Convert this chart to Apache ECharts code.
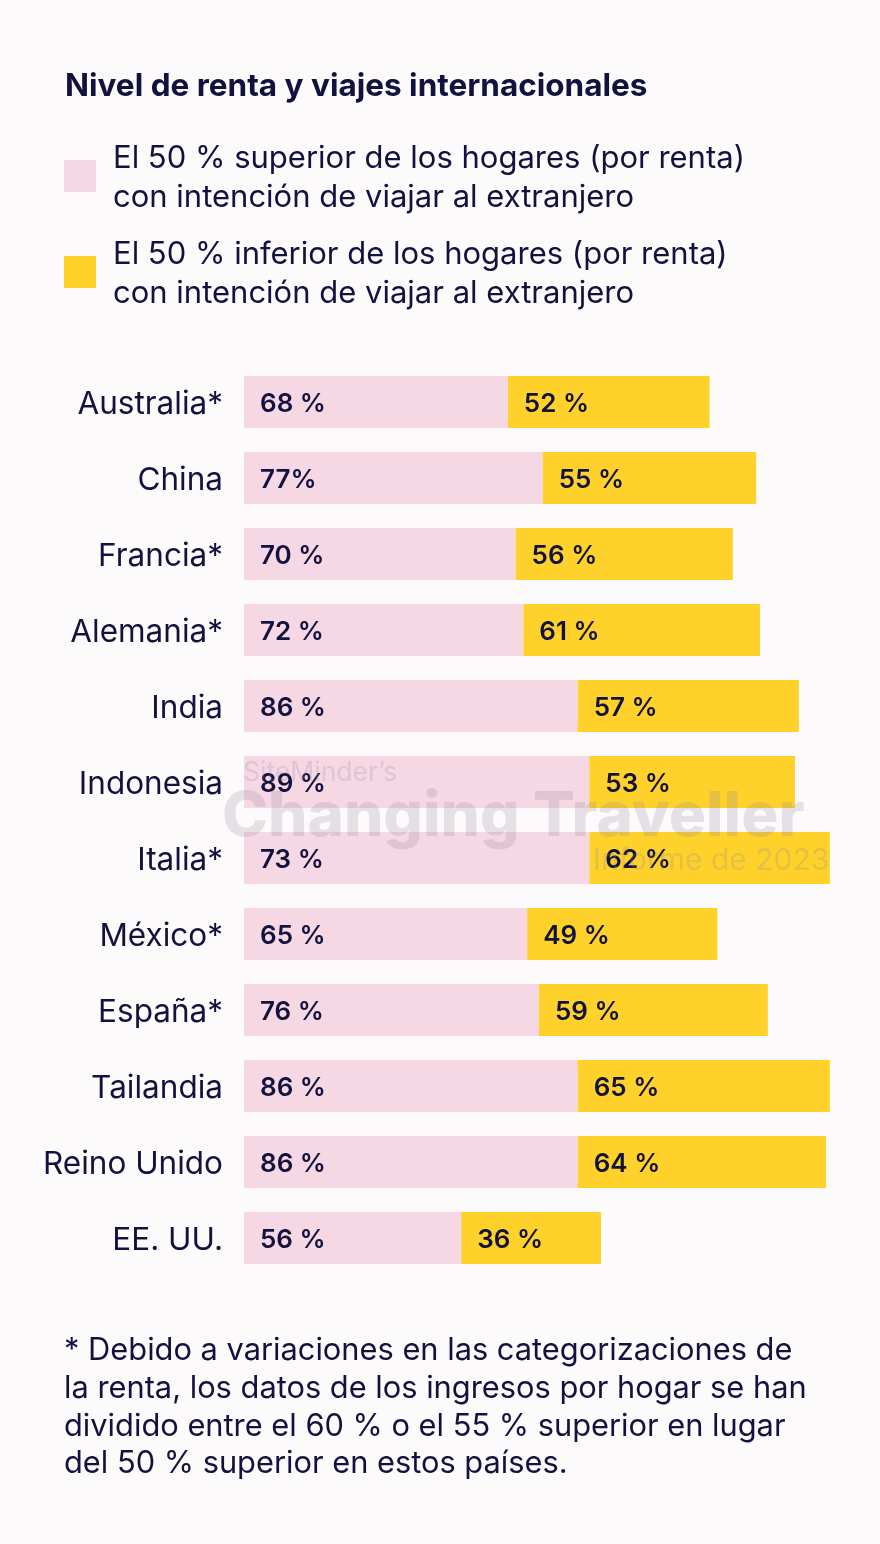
<!DOCTYPE html>
<html>
<head>
<meta charset="utf-8">
<script src="https://cdn.jsdelivr.net/npm/echarts@6/dist/echarts.min.js"></script>
<style>
html,body{margin:0;padding:0;background:#fdfafc;}
#chart{width:880px;height:1544px;}
</style>
</head>
<body>
<div id="chart"></div>
<script>
const categories = ['Australia*','China','Francia*','Alemania*','India','Indonesia','Italia*','México*','España*','Tailandia','Reino Unido','EE. UU.'];
const topHalf = [68,77,70,72,86,89,89,73,76,86,86,56];
const topHalfLabels = ['68 %','77%','70 %','72 %','86 %','89 %','73 %','65 %','76 %','86 %','86 %','56 %'];
const bottomHalf = [52,55,56,61,57,53,62,49,59,65,64,36];
const bottomHalfLabels = ['52 %','55 %','56 %','61 %','57 %','53 %','62 %','49 %','59 %','65 %','64 %','36 %'];

const NAVY = '#13123f';
const PINK = '#f6d8e4';
const YELLOW = '#fed22b';
const FONT = 'Inter, "Noto Sans", sans-serif';

const chart = echarts.init(document.getElementById('chart'));
const labelStyle = (arr) => ({
  show: true,
  position: 'insideLeft',
  distance: 16,
  offset: [0, 2],
  fontFamily: FONT,
  fontSize: 26,
  fontWeight: 600,
  color: NAVY,
  formatter: p => arr[p.dataIndex]
});
chart.setOption({
  backgroundColor: '#fdfafc',
  animation: false,
  grid: {left: 244, top: 364, width: 620.8, height: 912},
  xAxis: {type: 'value', min: 0, max: 160, show: false},
  yAxis: {
    type: 'category', data: categories, inverse: true,
    axisLine: {show: false}, axisTick: {show: false}, splitLine: {show: false},
    axisLabel: {
      margin: 21,
      formatter: v => '{a|' + v + '}',
      rich: {a: {fontFamily: FONT, fontSize: 31.5, color: NAVY, padding: [6, 0, 0, 0]}}
    }
  },
  series: [
    {type: 'bar', stack: 's', data: topHalf, barWidth: 52, itemStyle: {color: PINK}, label: labelStyle(topHalfLabels)},
    {type: 'bar', stack: 's', data: bottomHalf, barWidth: 52, itemStyle: {color: YELLOW}, label: labelStyle(bottomHalfLabels)}
  ],
  graphic: [
    {type: 'text', left: 65, top: 71, style: {text: 'Nivel de renta y viajes internacionales', font: '700 31.5px ' + FONT, fill: NAVY}},
    {type: 'rect', left: 64, top: 160, shape: {width: 32, height: 32}, style: {fill: PINK}},
    {type: 'text', left: 113, top: 139, style: {text: 'El 50 % superior de los hogares (por renta)\ncon intención de viajar al extranjero', font: '400 31px ' + FONT, lineHeight: 39, fill: NAVY}},
    {type: 'rect', left: 64, top: 256, shape: {width: 32, height: 32}, style: {fill: YELLOW}},
    {type: 'text', left: 113, top: 235, style: {text: 'El 50 % inferior de los hogares (por renta)\ncon intención de viajar al extranjero', font: '400 31px ' + FONT, lineHeight: 39, fill: NAVY}},
    {type: 'text', left: 64, top: 1332, style: {text: '* Debido a variaciones en las categorizaciones de\nla renta, los datos de los ingresos por hogar se han\ndividido entre el 60 % o el 55 % superior en lugar\ndel 50 % superior en estos países.', font: '400 30.8px ' + FONT, lineHeight: 37.7, fill: NAVY}},
    {type: 'text', left: 243, top: 760, z: 100, style: {text: 'SiteMinder\u2019s', font: '400 26.5px ' + FONT, fill: 'rgba(140,130,150,0.22)'}},
    {type: 'text', left: 222, top: 786, z: 100, style: {text: 'Changing Traveller', font: '800 62px ' + FONT, fill: 'rgba(140,130,150,0.22)'}},
    {type: 'text', left: 593, top: 846, z: 100, style: {text: 'Informe de 2023', font: '400 30px ' + FONT, fill: 'rgba(140,130,150,0.22)'}}
  ]
});
</script>
</body>
</html>
